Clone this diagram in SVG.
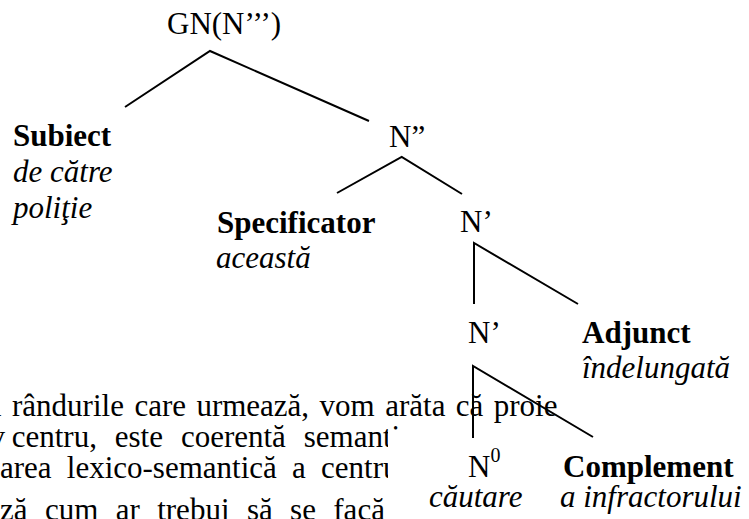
<svg xmlns="http://www.w3.org/2000/svg" width="749" height="519" viewBox="0 0 749 519">
<defs>
<style>
text{font-family:"Liberation Serif","Times New Roman",serif;font-size:31px;fill:#000}
.b{font-weight:bold}
.i{font-style:italic}
.sup{font-size:20px}
.edge{stroke:#000;stroke-width:2;fill:none;stroke-linecap:butt}
</style>
<clipPath id="clipL"><rect x="0" y="0" width="388" height="519"/></clipPath>
<clipPath id="clipL2"><rect x="0" y="0" width="388" height="519"/><rect x="0" y="0" width="560" height="431"/></clipPath>
</defs>
<rect width="749" height="519" fill="#fff"/>
<g id="paragraph">
<text y="416"><tspan x="-13.9">n</tspan><tspan x="12">rândurile</tspan><tspan x="134.4">care</tspan><tspan x="196.4">urmează,</tspan><tspan x="319.6">vom</tspan><tspan x="385.2">arăta</tspan><tspan x="455.8">că</tspan><tspan x="493.8">proie</tspan></text>
<text y="447" clip-path="url(#clipL2)"><tspan x="-10.5">v</tspan><tspan x="11.7">centru,</tspan><tspan x="114.8">este</tspan><tspan x="180.9">coerentă</tspan><tspan x="303.8">semanti</tspan></text>
<text y="478" clip-path="url(#clipL)"><tspan x="0">area</tspan><tspan x="66.8">lexico-semantică</tspan><tspan x="292">a</tspan><tspan x="321">centru</tspan></text>
<text y="520" clip-path="url(#clipL)"><tspan x="0">ză</tspan><tspan x="44.9">cum</tspan><tspan x="115.7">ar</tspan><tspan x="157.2">trebui</tspan><tspan x="246.9">să</tspan><tspan x="290.1">se</tspan><tspan x="333.3">facă</tspan></text>
</g>
<g id="connectors">
<path class="edge" d="M125 107 L210 51 L369 121"/>
<path class="edge" d="M337 193 L401.7 157 L462 194"/>
<path class="edge" d="M474 304 L474 243 L578 304"/>
<path class="edge" d="M473 438 L473 366 L593 437"/>
</g>
<g id="gn"><text x="167" y="34">GN(N’’’)</text></g>
<g id="subiect"><text class="b" x="13" y="146">Subiect</text><text class="i" x="13" y="182">de către</text><text class="i" x="13" y="218">poliţie</text></g>
<g id="n2"><text x="389" y="147">N”</text></g>
<g id="specificator"><text class="b" x="217" y="233">Specificator</text><text class="i" x="216" y="268">această</text></g>
<g id="n1a"><text x="460" y="232">N’</text></g>
<g id="n1b"><text x="468" y="343">N’</text></g>
<g id="adjunct"><text class="b" x="582" y="343">Adjunct</text><text class="i" x="582" y="378">îndelungată</text></g>
<g id="n0"><text x="468" y="477">N<tspan class="sup" dy="-15">0</tspan></text><text class="i" x="429" y="507">căutare</text></g>
<g id="complement"><text class="b" x="563" y="477">Complement</text><text class="i" x="560" y="507">a infractorului</text></g>
</svg>
